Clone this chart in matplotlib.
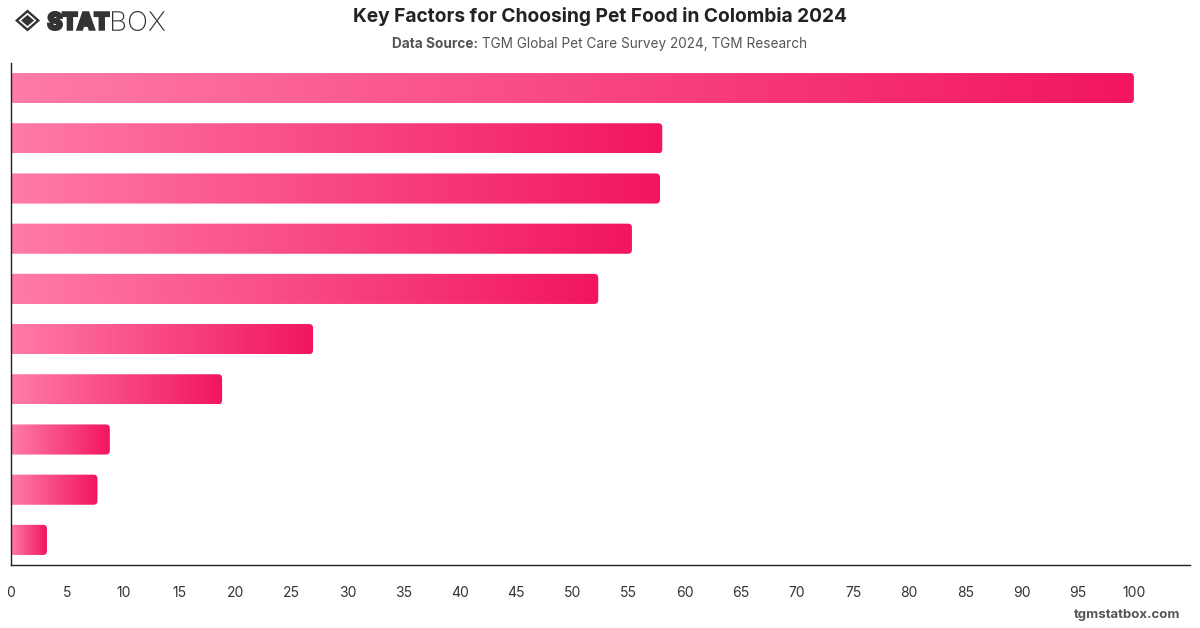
import numpy as np
import matplotlib
matplotlib.use("Agg")
import matplotlib.pyplot as plt
from matplotlib.colors import LinearSegmentedColormap
from matplotlib.patches import FancyBboxPatch, Polygon, PathPatch
from matplotlib.textpath import TextPath
from matplotlib.font_manager import FontProperties
from matplotlib.transforms import Affine2D, IdentityTransform

# Data (the chart shows no category labels)
values = [100, 58.0, 57.8, 55.3, 52.3, 26.9, 18.8, 8.8, 7.7, 3.2]
ticks = list(range(0, 101, 5))

title = "Key Factors for Choosing Pet Food in Colombia 2024"
source_label = "Data Source:"
source_text = " TGM Global Pet Care Survey 2024, TGM Research"

plt.rcParams['font.family'] = ['Inter', 'DejaVu Sans']

W, H = 1200, 628
fig = plt.figure(figsize=(12, 6.28), dpi=100)
ax = fig.add_axes([11 / W, 63 / H, 1179 / W, 502 / H])

xmax = 105
cmap = LinearSegmentedColormap.from_list("pink", ["#ff7ba8", "#f21561"])
grad = np.linspace(0, 1, 256).reshape(1, -1)

bars = ax.barh(range(len(values)), values, height=0.6, color="none")

# rounded right corners via FancyBboxPatch, aspect-corrected
x_per_px = xmax / 1179
y_per_px = len(values) / 502
r = 4 * x_per_px
aspect = y_per_px / x_per_px

for b in bars:
    x0, y0 = b.get_x(), b.get_y()
    w, h = b.get_width(), b.get_height()
    patch = FancyBboxPatch((x0 - r, y0), w + r, h,
                           boxstyle=f"round,pad=0,rounding_size={r}",
                           mutation_aspect=aspect,
                           facecolor="none", edgecolor="none")
    ax.add_patch(patch)
    im = ax.imshow(grad, cmap=cmap, aspect="auto",
                   extent=[x0, x0 + w, y0 + h, y0], zorder=2)
    im.set_clip_path(patch)

ax.set_xlim(0, xmax)
ax.set_ylim(len(values) - 0.5, -0.5)

ax.set_xticks(ticks)
ax.set_xticklabels([str(t) for t in ticks])
ax.tick_params(axis="x", length=0, pad=15, labelsize=10, labelcolor="#333333")
ax.set_yticks([])
for s in ["top", "right"]:
    ax.spines[s].set_visible(False)
for s in ["left", "bottom"]:
    ax.spines[s].set_color("#222222")
    ax.spines[s].set_linewidth(1.0)

# title + source
fig.text(0.5, 1 - 17 / H, title, ha="center", va="center",
         fontsize=13.8, fontweight="bold", color="#222222")
t1 = fig.text(0.5, 1 - 44 / H, source_label, ha="left", va="center",
              fontsize=9.8, fontweight="bold", color="#555555")
t2 = fig.text(0.5, 1 - 44 / H, source_text, ha="left", va="center",
              fontsize=9.8, color="#555555")
fig.canvas.draw()
rend = fig.canvas.get_renderer()
w1 = t1.get_window_extent(rend).width
w2 = t2.get_window_extent(rend).width
start = 0.5 - (w1 + w2) / 2 / W
t1.set_x(start)
t2.set_x(start + w1 / W)


# logo, drawn in pixel coordinates (y measured from top)
def fit_text(s, weight, x0, x1, ytop, ybot, lw=0.0, color="#333333"):
    tp = TextPath((0, 0), s, size=20, prop=FontProperties(family="Inter", weight=weight))
    bb = tp.get_extents()
    pad = lw * 0.7  # stroke grows the glyphs by about half the line width (pt -> px)
    sx = (x1 - x0 - 2 * pad) / bb.width
    sy = (ybot - ytop - 2 * pad) / bb.height
    tr = Affine2D().translate(-bb.x0, -bb.y0).scale(sx, sy).translate(x0 + pad, H - ybot + pad)
    fig.add_artist(PathPatch(tr.transform_path(tp), facecolor=color,
                             edgecolor=color if lw else "none", linewidth=lw,
                             joinstyle="miter", transform=IdentityTransform()))


def diamond(cx, cy, hw, hh, color):
    fig.add_artist(Polygon([[cx - hw, H - cy], [cx, H - cy + hh], [cx + hw, H - cy], [cx, H - cy - hh]],
                           closed=True, facecolor=color, edgecolor="none",
                           transform=IdentityTransform()))


diamond(27.5, 20.5, 12.5, 11, "#333333")
diamond(27.5, 20.5, 9, 7.8, "white")
diamond(27.5, 20.5, 6.5, 5.6, "#333333")
fit_text("STAT", "bold", 47, 110, 11, 31, lw=2.2)
fit_text("BOX", "light", 112, 165, 11, 31)

# footer
fig.text(1180 / W, 1 - 615 / H, "tgmstatbox.com", ha="right", va="center",
         fontsize=9.5, fontweight="bold", color="#555555")

fig.savefig("out.png", dpi=100, facecolor="white")
